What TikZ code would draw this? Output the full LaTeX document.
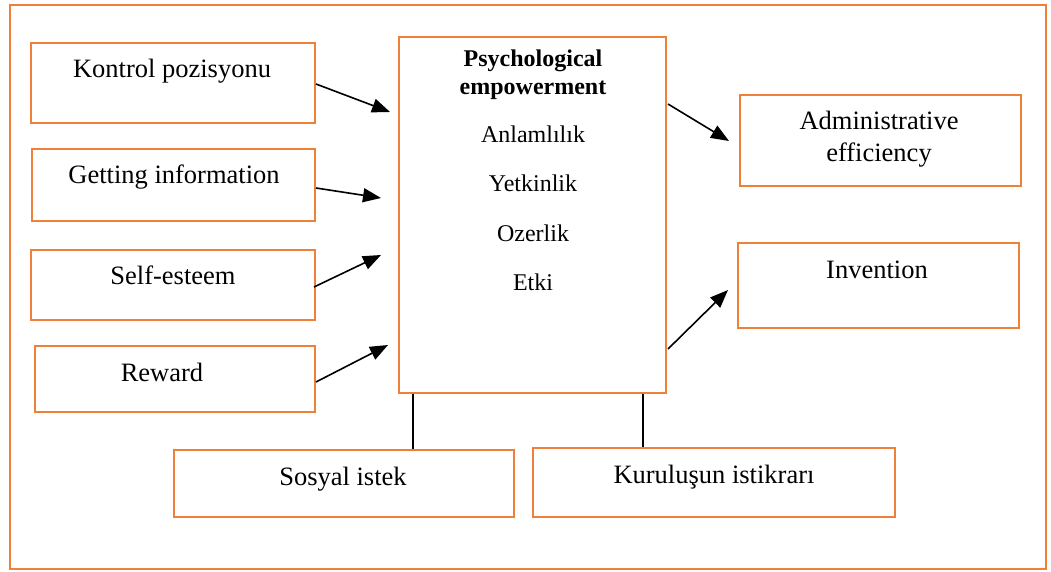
\documentclass[tikz,border=0pt]{standalone}
\usepackage{fontspec}
\setmainfont{Liberation Serif}
\usetikzlibrary{arrows.meta,fit,calc}
\definecolor{boxorange}{RGB}{238,128,58}
\begin{document}
\begin{tikzpicture}[x=1pt,y=-1pt,
  box/.style={draw=boxorange,line width=2pt,inner sep=0pt,fill=white},
  lbl/.style={anchor=base,inner sep=0pt,font=\fontsize{26.5}{32}\selectfont},
  inner/.style={anchor=base,inner sep=0pt,font=\fontsize{24}{28}\selectfont},
  head/.style={anchor=base,inner sep=0pt,font=\fontsize{24}{28}\selectfont\bfseries},
  arr/.style={draw=black,line width=1.6pt,-{Triangle[length=18pt,width=14pt]}},
  link/.style={draw=black,line width=1.6pt}]
\useasboundingbox (0,0) rectangle (1051,572);
\fill[white] (0,0) rectangle (1051,572);
% outer frame
\node[box,fill=none,fit={(10,5) (1046,569)}] (frame) {};

% left-hand factors
\node[box,fit={(31,43) (315,123)}] (kp) {};
\node[lbl] (kpt) at (172,78) {Kontrol pozisyonu};
\node[box,fit={(32,149) (315,221)}] (gi) {};
\node[lbl] (git) at (174,183) {Getting information};
\node[box,fit={(31,250) (315,320)}] (se) {};
\node[lbl] (set) at (173,284) {Self-esteem};
\node[box,fit={(35,346) (315,412)}] (rw) {};
\node[lbl] (rwt) at (162,381) {Reward};

% central construct
\node[box,fit={(399,37) (666,393)}] (pe) {};
\node[head] (pe1) at (533,67) {Psychological};
\node[head] (pe2) at (533,95) {empowerment};
\node[inner] (d1) at (533,143) {Anlamlılık};
\node[inner] (d2) at (533,192) {Yetkinlik};
\node[inner] (d3) at (533,241) {Ozerlik};
\node[inner] (d4) at (533,290) {Etki};

% outcomes
\node[box,fit={(740,95) (1021,186)}] (ad) {};
\node[lbl] (ad1) at (879,130) {Administrative};
\node[lbl] (ad2) at (879,162) {efficiency};
\node[box,fit={(738,243) (1019,328)}] (inv) {};
\node[lbl] (invt) at (877,278) {Invention};

% moderators
\node[box,fit={(174,450) (514,517)}] (si) {};
\node[lbl] (sit) at (343,485) {Sosyal istek};
\node[box,fit={(533,448) (895,517)}] (ku) {};
\node[lbl] (kut) at (714,483) {Kuruluşun istikrarı};

% arrow tips stop short of the central box
\coordinate (t1) at (390,112);
\coordinate (t2) at (381,198);
\coordinate (t3) at (381,255);
\coordinate (t4) at (388,345);
\coordinate (t5) at (729,141);
\coordinate (t6) at (728,290);

\draw[arr] ([yshift=-1pt]kp.east) -- (t1);
\draw[arr] ([yshift=-3pt]gi.east) -- (t2);
\draw[arr] ([yshift=-2pt,xshift=-2pt]se.east) -- (t3);
\draw[arr] ([yshift=-3pt]rw.east) -- (t4);
\draw[arr] ($(pe.north east)+(1,68)$) -- (t5);
\draw[arr] ($(pe.south east)+(1,-45)$) -- (t6);

% links to the moderators
\coordinate (b1) at ($(pe.south west)+(15,0)$);
\coordinate (b2) at ($(pe.south east)+(-24,0)$);
\draw[link] (b1) -- (b1 |- si.north);
\draw[link] (b2) -- (b2 |- ku.north);
\end{tikzpicture}
\end{document}
